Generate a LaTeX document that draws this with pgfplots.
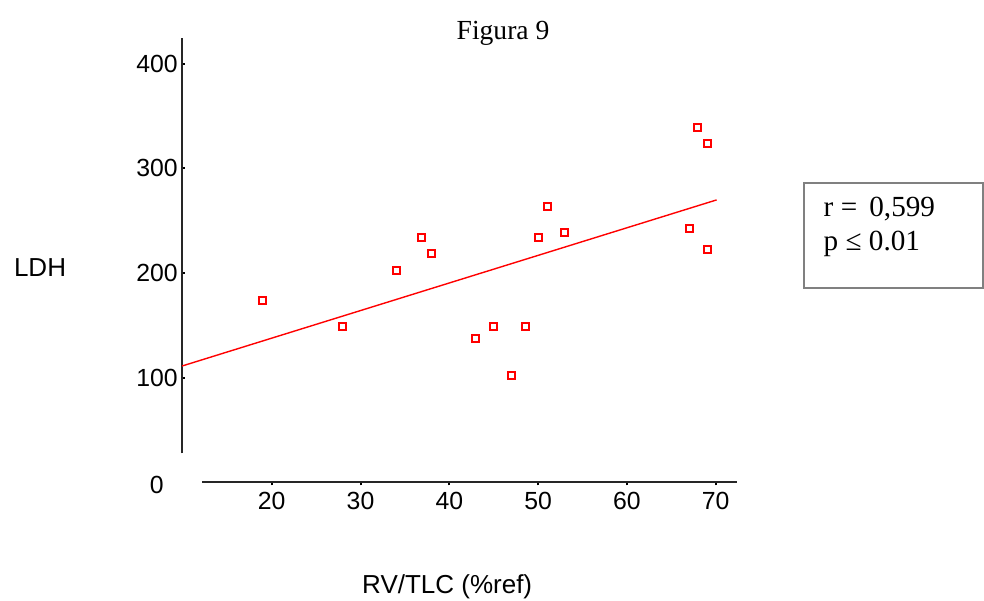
\documentclass[border=0pt]{standalone}
\usepackage{fontspec}
\setmainfont{Liberation Serif}
\setsansfont{Liberation Sans}
\usepackage{pgfplots}
\pgfplotsset{compat=1.18}

\begin{document}
\begin{tikzpicture}
\begin{axis}[
    x=4.44pt, y=0.52335pt,
    xmin=9.9, xmax=72.37,
    ymin=0, ymax=424.3,
    clip=false,
    axis x line*=bottom, axis y line*=left,
    axis line style={draw=none},
    xtick={20,30,...,70},
    ytick={100,200,300,400},
    tick align=inside,
    major tick length=1.5pt,
    every tick/.style={black, line width=1pt},
    x tick style={yshift=-1.5pt},
    /pgf/number format/assume math mode=true,
    tick label style={font=\sffamily\fontsize{12.4}{14}\selectfont},
    xticklabel style={anchor=north, inner sep=0pt, yshift=-4.8pt},
    yticklabel style={anchor=east, inner sep=0pt, xshift=-2pt},
]
% invisible frame: keeps the page at the reference's size
\path (axis cs:-10.6,460.9) rectangle (axis cs:100.21,-113.2);

% detached axis lines
\draw[black!85, line width=1pt] (axis cs:9.9,27.8) -- (axis cs:9.9,424.3);
\draw[black!85, line width=1pt] (axis cs:12.18,0) -- (axis cs:72.37,0);

% fit line
\addplot[red, line width=0.7pt] coordinates {(9.9,111.2) (70.1,269.9)};

% data
\addplot[only marks, mark=square*, mark size=1.75pt,
    mark options={draw=red, fill=white, line width=1pt}] coordinates {
    (19,174) (28,148.6) (34,202) (36.9,234.4) (38,219.1)
    (43,137.1) (45,148.6) (47,102.6) (48.6,148.6) (50,234.4)
    (51,264) (53,239.2) (67,243) (68,339.5) (69.1,324.2) (69.1,222.9)
};

\node[anchor=base, inner sep=0pt, font=\sffamily\fontsize{12.4}{14}\selectfont]
    at (axis cs:7.05,-10.4) {0};

\node[anchor=base, inner sep=0pt, font=\fontsize{13.8}{16}\selectfont]
    at (axis cs:46.05,423.6) {Figura 9};
\node[anchor=base, inner sep=0pt, font=\sffamily\fontsize{13}{15}\selectfont]
    at (axis cs:-6.09,197.2) {LDH};
\node[anchor=base, inner sep=0pt, font=\sffamily\fontsize{13}{15}\selectfont]
    at (axis cs:39.76,-105.95) {RV/TLC (\%ref)};

% stats box
\draw[gray, line width=1pt] (axis cs:79.94,286.0) rectangle (axis cs:100.1,185.7);
\node[anchor=base west, inner sep=0pt, font=\fontsize{14.6}{17}\selectfont]
    at (axis cs:82.12,253.8) {r = \,0,599};
\node[anchor=base west, inner sep=0pt, font=\fontsize{14.6}{17}\selectfont]
    at (axis cs:82.12,222.0) {p ≤ 0.01};
\end{axis}
\end{tikzpicture}
\end{document}
